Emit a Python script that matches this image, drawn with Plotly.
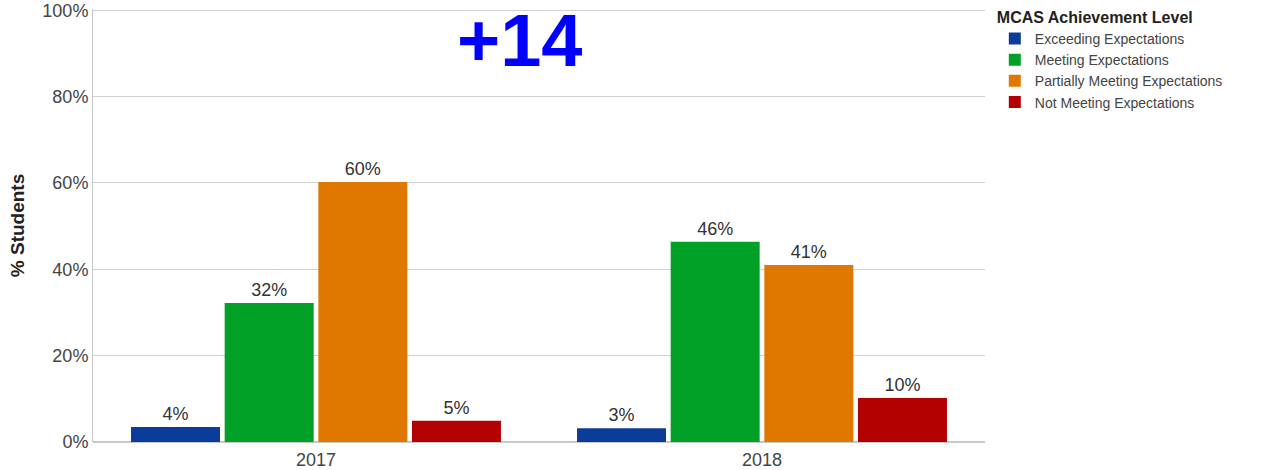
import plotly.graph_objects as go

years = ["2017", "2018"]
levels = ["Exceeding Expectations", "Meeting Expectations",
          "Partially Meeting Expectations", "Not Meeting Expectations"]
exceeding = [3.5, 3.2]
meeting = [32.2, 46.4]
partially = [60.2, 41.0]
not_meeting = [4.9, 10.2]
colors = ["#0b3c9a", "#00a126", "#e07800", "#b30000"]
y_ticks = [0, 20, 40, 60, 80, 100]
y_tick_labels = ["0%", "20%", "40%", "60%", "80%", "100%"]

series = [exceeding, meeting, partially, not_meeting]
FONT = "Liberation Sans, Arial, sans-serif"

fig = go.Figure()
for name, vals, col in zip(levels, series, colors):
    fig.add_trace(go.Bar(
        x=years, y=vals, name=name, marker=dict(color=col, line=dict(width=0)),
        texttemplate="%{y:.0f}%", textposition="outside",
        textfont=dict(size=18, color="#333333", family=FONT),
        cliponaxis=False,
    ))

fig.add_annotation(text="<b>+14</b>", x=0.479, y=1.004, xref="paper", yref="paper",
                   xanchor="center", yanchor="top", showarrow=False,
                   height=62, valign="middle",
                   font=dict(size=74, color="#0000ff", family=FONT))

fig.update_layout(
    width=1274, height=470,
    margin=dict(l=93, r=289, t=9, b=28, autoexpand=False),
    paper_bgcolor="white", plot_bgcolor="white",
    font=dict(family=FONT, size=18, color="#444444"),
    barmode="group", bargap=0.16, bargroupgap=0.05,
    legend=dict(
        title=dict(text="<b>MCAS Achievement Level</b>", font=dict(size=16, color="#222222")),
        x=1.011, y=1.016, xanchor="left", yanchor="top",
        font=dict(size=14, color="#444444"), tracegroupgap=0, itemwidth=30,
    ),
    xaxis=dict(showgrid=False, showline=False, ticks="", tickfont=dict(size=18),
               automargin=False, ticklabelstandoff=5),
    yaxis=dict(range=[0, 100.3], tickvals=y_ticks, ticktext=y_tick_labels,
               showgrid=True, gridcolor="#d0d0d0", gridwidth=1,
               showline=True, linecolor="#c8c8c8", linewidth=1,
               zeroline=True, zerolinecolor="#c8c8c8", automargin=False,
               ticklabeloverflow="allow",
               title=dict(text="<b>% Students</b>", font=dict(size=19, color="#222222"), standoff=12),
               tickfont=dict(size=18, color="#444444")),
)

fig.write_html("out.html", config={"displayModeBar": False},
               post_script="document.body.style.margin='0';")
